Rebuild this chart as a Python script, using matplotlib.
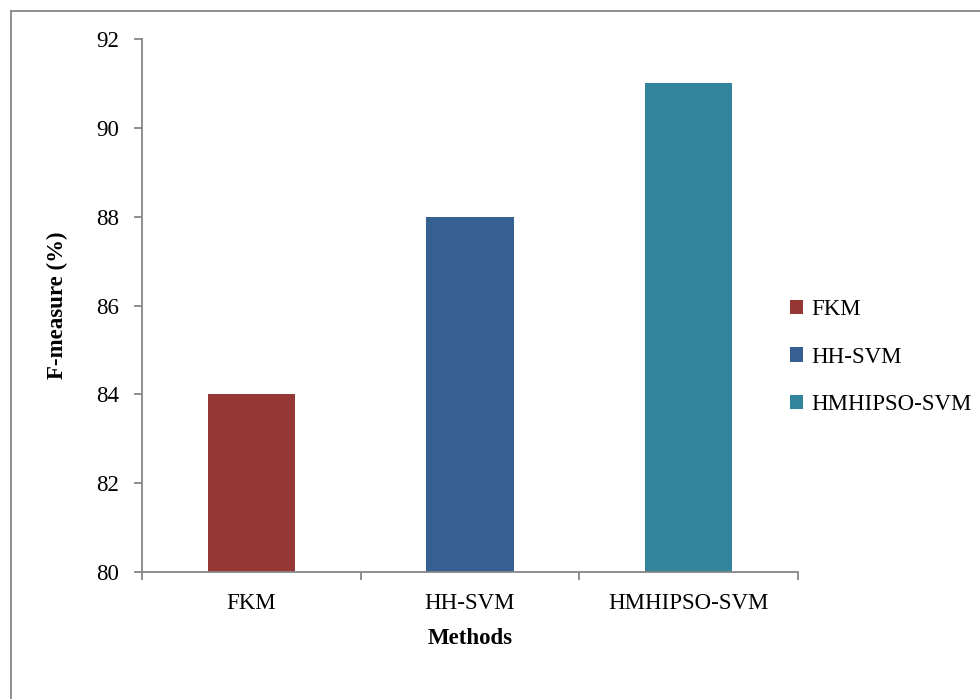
import matplotlib
matplotlib.use("Agg")
import matplotlib.pyplot as plt
from matplotlib.lines import Line2D

# data
methods = ["FKM", "HH-SVM", "HMHIPSO-SVM"]
fmeasure = [84, 88, 91]
colors = ["#953735", "#376092", "#31849B"]
yticks = [80, 82, 84, 86, 88, 90, 92]

plt.rcParams['font.family'] = ['Liberation Serif', 'DejaVu Serif']
gray = "#868686"
fs = 16.5

W, H = 980, 699
fig = plt.figure(figsize=(W / 100, H / 100), dpi=100)
ax = fig.add_axes([142 / W, 1 - 572 / H, (798 - 142) / W, (572 - 39) / H])

x = range(len(methods))
for i in x:
    ax.bar(i, fmeasure[i] - 80, bottom=80, width=0.4, color=colors[i],
           label=methods[i], zorder=2)

ax.set_xlim(-0.5, len(methods) - 0.5)
ax.set_ylim(80, 92)
ax.set_yticks(yticks)
ax.set_xticks(list(x))
ax.set_xticklabels(methods)
ax.set_xticks([i - 0.5 for i in range(len(methods) + 1)], minor=True)

for s in ["top", "right"]:
    ax.spines[s].set_visible(False)
for s in ["left", "bottom"]:
    ax.spines[s].set_color(gray)
    ax.spines[s].set_linewidth(1.3)

ax.tick_params(axis="y", direction="out", length=5.5, width=1.3, color=gray,
               labelsize=fs, pad=11)
ax.tick_params(axis="x", which="major", length=0, labelsize=fs, pad=15)
ax.tick_params(axis="x", which="minor", direction="out", length=5.5, width=1.3,
               color=gray)

ax.set_ylabel("F-measure (%)", fontsize=fs, fontweight="bold", labelpad=20)
ax.set_xlabel("Methods", fontsize=fs, fontweight="bold", labelpad=10)

fig.legend(loc="center left", bbox_to_anchor=(790 / W, 1 - 357 / H),
           frameon=False, fontsize=fs, handlelength=0.58, handleheight=0.58,
           handletextpad=0.35, labelspacing=1.15, borderaxespad=0,
           borderpad=0)

# outer chart border (only left and top edges show in the picture)
fig.add_artist(Line2D([10.5 / W, 10.5 / W], [0, 1 - 10.5 / H],
                      transform=fig.transFigure, color=gray, linewidth=1.3))
fig.add_artist(Line2D([10.5 / W, 1], [1 - 10.5 / H, 1 - 10.5 / H],
                      transform=fig.transFigure, color=gray, linewidth=1.3))

fig.savefig("out.png", dpi=100)
